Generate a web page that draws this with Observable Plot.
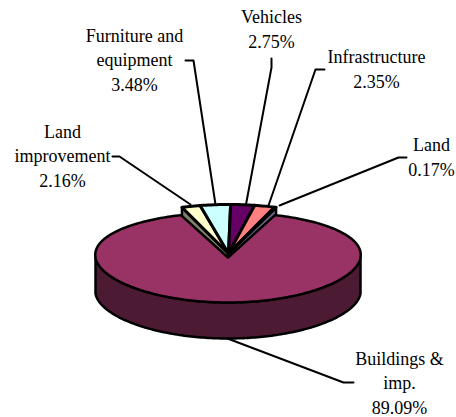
<!DOCTYPE html>
<html>
<head>
<meta charset="utf-8">
<script src="https://cdn.jsdelivr.net/npm/d3@7"></script>
<script src="https://cdn.jsdelivr.net/npm/@observablehq/plot@0.6"></script>
<style>
html,body{margin:0;padding:0;background:#fff}
svg{display:block}
</style>
</head>
<body>
<div id="chart"></div>
<script>
// Data: clockwise from the left edge of the small-slice fan
const categories = ["Land improvement", "Furniture and equipment", "Vehicles", "Infrastructure", "Land", "Buildings & imp."];
const shares = [2.16, 3.48, 2.75, 2.35, 0.17, 89.09];
const shareLabels = ["2.16%", "3.48%", "2.75%", "2.35%", "0.17%", "89.09%"];
const labelLines = ["Land\nimprovement\n", "Furniture and\nequipment\n", "Vehicles\n", "Infrastructure\n", "Land\n", "Buildings &\nimp.\n"];

// Styles
const topColors = ["#ffffcc", "#ccffff", "#660066", "#ff8080", "#ccccff", "#993366"];
const sideColors = ["#808066", "#668080", "#330033", "#804040", "#666680", "#4d1a33"];

// Layout (pie geometry, label anchors and leader elbows)
const cx = 227.5, cy = 257, rx = 132.5, ry = 45, depth = 36, skew = 0.06;
const fanCy = 253, fanRy = 49, fanDx = 1;
const labelX = [62, 134, 271, 376, 431, 399];
const labelY = [154, 58, 27, 67, 155, 381];
const elbowA = [[112, 156], [185, 60], [271, 58], [324, 69], [406, 157], [353, 382]];
const elbowB = [[119, 156], [193, 60], [271, 67], [315, 69], [398, 157], [343, 382]];
const rimEnd = [[190, 204], [215, 204], [245.5, 204], [268, 205], [279, 205], [227, 338]];

// Angles derived from the shares
const total = d3.sum(shares);
const smallTotal = d3.sum(shares.slice(0, 5));
let acc = -(smallTotal / total) * Math.PI;
const slices = shares.map((v, i) => {
  const a0 = acc;
  acc += (v / total) * 2 * Math.PI;
  return {i, a0, a1: acc};
});
const arc = (a0, a1, y0, r, dx = 0) => {
  const n = Math.max(2, Math.ceil(Math.abs(a1 - a0) / 0.02));
  return d3.range(n + 1).map(k => {
    const a = a0 + (a1 - a0) * k / n;
    return {x: cx + dx + rx * Math.sin(a) * (1 + skew * Math.cos(a)), y: y0 - r * Math.cos(a)};
  });
};
const wedge = (s, y0, r, dx = 0) => [{x: cx + dx / 2, y: y0}, ...arc(s.a0, s.a1, y0, r, dx)];
const drop = (p) => ({x: p.x, y: p.y + depth});

const poly = (pts, fill, strokeWidth) => Plot.line(pts, {
  x: "x", y: "y", fill, stroke: "#000", strokeWidth,
  curve: "linear-closed", strokeLinejoin: "round"
});

const marks = [];

// Outer side faces of the raised fan of small slices
const first = wedge(slices[0], fanCy, fanRy, fanDx);
const last = wedge(slices[4], fanCy, fanRy, fanDx);
marks.push(poly([first[0], first[1], drop(first[1]), drop(first[0])], sideColors[0], 2.5));
marks.push(poly([last[0], last[last.length - 1], drop(last[last.length - 1]), drop(last[0])], sideColors[4], 2.5));

// Top faces of the small slices
slices.slice(0, 5).forEach(s => {
  marks.push(poly(wedge(s, fanCy, fanRy, fanDx), topColors[s.i], 3));
});

// Big slice: front wall and top face
const big = slices[5];
const wall = [...arc(Math.PI / 2, 3 * Math.PI / 2, cy, ry), ...arc(3 * Math.PI / 2, Math.PI / 2, cy + depth, ry)];
marks.push(poly(wall, sideColors[5], 2.5));
marks.push(poly(wedge(big, cy, ry), topColors[5], 2.5));

// Leader lines
categories.forEach((c, i) => {
  const pts = [elbowA[i], elbowB[i], rimEnd[i]].map(([x, y]) => ({x, y}));
  marks.push(Plot.line(pts, {x: "x", y: "y", stroke: "#000", strokeWidth: 2, strokeLinejoin: "round"}));
});

// Labels
const labelRows = categories.map((c, i) => ({
  text: labelLines[i] + shareLabels[i], x: labelX[i], y: labelY[i]
}));
marks.push(Plot.text(labelRows, {
  x: "x", y: "y", text: "text",
  fontFamily: "Liberation Serif", fontSize: 18, lineHeight: 1.38,
  fill: "#000", textAnchor: "middle", lineAnchor: "middle"
}));

const chart = Plot.plot({
  width: 456, height: 417,
  margin: 0,
  x: {domain: [0, 456], range: [0, 456], axis: null},
  y: {domain: [0, 417], range: [0, 417], axis: null},
  marks
});
document.getElementById("chart").appendChild(chart);
</script>
</body>
</html>
